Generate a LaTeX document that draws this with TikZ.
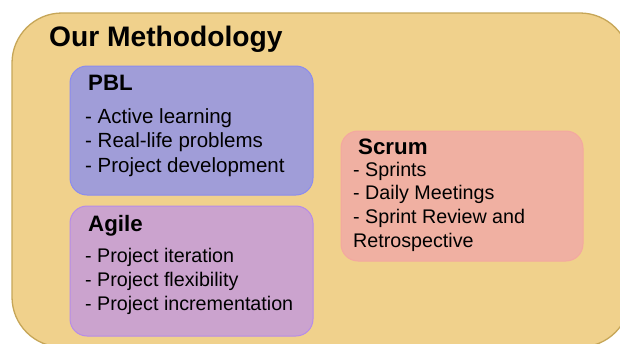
\documentclass[tikz,border=0pt]{standalone}
\usepackage{fontspec}
\setmainfont{Liberation Sans}
\begin{document}
\definecolor{outerfill}{RGB}{240,209,140}
\definecolor{outerline}{RGB}{198,166,88}
\definecolor{pblfill}{RGB}{160,157,216}
\definecolor{pblline}{RGB}{140,140,238}
\definecolor{agilefill}{RGB}{203,163,206}
\definecolor{agileline}{RGB}{182,140,232}
\definecolor{scrumfill}{RGB}{240,176,162}
\definecolor{scrumline}{RGB}{244,168,160}
\begin{tikzpicture}[x=1pt,y=-1pt,
  panel/.style={rounded corners=17pt,line width=1pt},
  heading/.style={anchor=base west,inner sep=0pt,font=\fontsize{22.3}{26}\selectfont\bfseries},
  items/.style={anchor=base west,inner sep=0pt,align=left,font=\fontsize{20.5}{24.5}\selectfont},
  smallitems/.style={items,font=\fontsize{19.7}{23.6}\selectfont}]
  \useasboundingbox (0,0) rectangle (620,343);
  % outer frame, running past the right and bottom edges
  \begin{scope}
    \clip (0,0) rectangle (620,343);
    \draw[fill=outerfill,draw=outerline,line width=1.3pt,rounded corners=50pt] (12,13) rectangle (630,347);
  \end{scope}
  \node[anchor=base west,inner sep=0pt,font=\fontsize{28.2}{32}\selectfont\bfseries] (title) at (49,46) {Our Methodology};
  % panels
  \draw[panel,fill=pblfill,draw=pblline] (70,66) rectangle (313,195);
  \draw[panel,fill=agilefill,draw=agileline] (70,206) rectangle (313,336);
  \draw[panel,fill=scrumfill,draw=scrumline] (341,131) rectangle (583,261);
  % PBL (item lists are anchored at the baseline of their last line)
  \node[heading] (pblhead) at (88,90) {PBL};
  \node[items] (pblitems) at (85,172) {- Active learning\\- Real-life problems\\- Project development};
  % Agile
  \node[heading] (agilehead) at (88,231) {Agile};
  \node[smallitems] (agileitems) at (85,310) {- Project iteration\\- Project flexibility\\- Project incrementation};
  % Scrum
  \node[heading] (scrumhead) at (358,154) {Scrum};
  \node[smallitems] (scrumitems) at (353,247) {- Sprints\\- Daily Meetings\\- Sprint Review and\\Retrospective};
\end{tikzpicture}
\end{document}
